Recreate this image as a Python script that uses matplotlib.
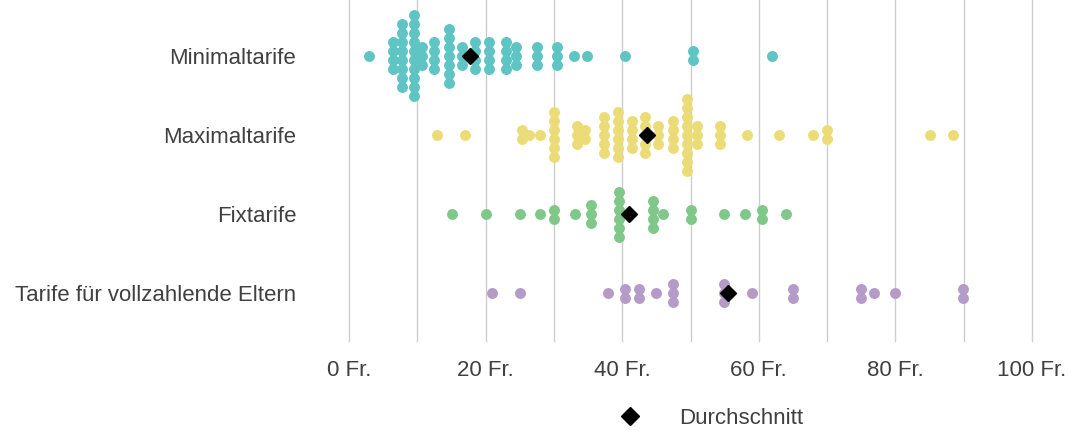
import numpy as np
import matplotlib.pyplot as plt
from matplotlib.lines import Line2D

plt.rcParams['font.family'] = ['Liberation Sans', 'DejaVu Sans']

kategorien = ["Minimaltarife", "Maximaltarife", "Fixtarife", "Tarife für vollzahlende Eltern"]
farben = ["#5ec4c4", "#ebdc78", "#80c88a", "#b59bc8"]

# Tarif (Fr.) und Anzahl Kitas mit diesem Tarif
minimal_werte = [3, 6.4, 7.8, 9.5, 10.7, 12.5, 14.6, 16.5, 18.5, 20.5, 23, 24.4, 27.5, 30.4, 33, 34.9, 40.4, 50.4, 62]
minimal_anzahl = [1, 4, 8, 10, 3, 4, 7, 3, 4, 4, 4, 3, 3, 3, 1, 1, 1, 2, 1]

maximal_werte = [12.9, 17, 25.4, 26.4, 28, 30, 33.4, 34.6, 37.4, 39.4, 41.4, 43.4, 45.3, 47.4, 49.5, 50.9,
                 54.3, 58.3, 62.9, 68, 70, 85, 88.4]
maximal_anzahl = [1, 1, 2, 1, 1, 6, 3, 2, 5, 6, 4, 5, 3, 4, 9, 3, 3, 1, 1, 1, 2, 1, 1]

fix_werte = [15.1, 20, 25, 28, 30, 33.1, 35.5, 39.5, 44.5, 46, 50, 54.9, 58, 60.5, 64]
fix_anzahl = [1, 1, 1, 1, 2, 1, 3, 6, 4, 1, 2, 1, 1, 2, 1]

voll_werte = [21, 25, 37.9, 40.4, 42.5, 45, 47.4, 54.9, 59, 65, 74.9, 76.9, 79.9, 89.9]
voll_anzahl = [1, 1, 1, 2, 2, 1, 3, 3, 1, 2, 2, 1, 1, 2]

zeilen = [(minimal_werte, minimal_anzahl), (maximal_werte, maximal_anzahl),
          (fix_werte, fix_anzahl), (voll_werte, voll_anzahl)]

x_ticks = [0, 20, 40, 60, 80, 100]
x_labels = [f"{t} Fr." for t in x_ticks]

textfarbe = "#404040"

fig = plt.figure(figsize=(10.72, 4.32), dpi=100)
ax = fig.add_axes([349 / 1072, 1 - 341 / 432, 683 / 1072, 341 / 432])

for x in range(0, 101, 10):
    ax.axvline(x, color="#cdcdcd", lw=1.0, zorder=0, clip_on=False)

abstand = 9 / 79.3  # vertikaler Abstand gestapelter Punkte (in Zeilen-Einheiten)
for i, (werte, anzahl) in enumerate(zeilen):
    xs, ys = [], []
    for w, n in zip(werte, anzahl):
        off = (np.arange(n) - (n - 1) / 2) * abstand
        xs += [w] * n
        ys += list(i + off)
    ax.scatter(xs, ys, s=62, color=farben[i], linewidths=0, zorder=2)
    mittel = np.mean(np.repeat(werte, anzahl))
    ax.plot(mittel, i, marker="D", markersize=8.5, color="black", ls="None", zorder=3)

ax.set_xlim(0, 100)
ax.set_ylim(3.6, -0.7)
ax.set_yticks(range(len(kategorien)))
ax.set_yticklabels(kategorien)
ax.set_xticks(x_ticks)
ax.set_xticklabels(x_labels)
ax.tick_params(length=0, labelsize=16, labelcolor=textfarbe)
ax.tick_params(axis="y", pad=38)
ax.tick_params(axis="x", pad=14)
for s in ax.spines.values():
    s.set_visible(False)

handle = Line2D([0], [0], marker="D", color="black", ls="None", markersize=9)
fig.legend([handle], ["Durchschnitt"], loc="center left", frameon=False,
           bbox_to_anchor=(618.6 / 1072, 1 - 418 / 432), borderpad=0, borderaxespad=0,
           handlelength=1, handletextpad=1.72, fontsize=16, labelcolor=textfarbe)

fig.savefig("out.png", dpi=100)
